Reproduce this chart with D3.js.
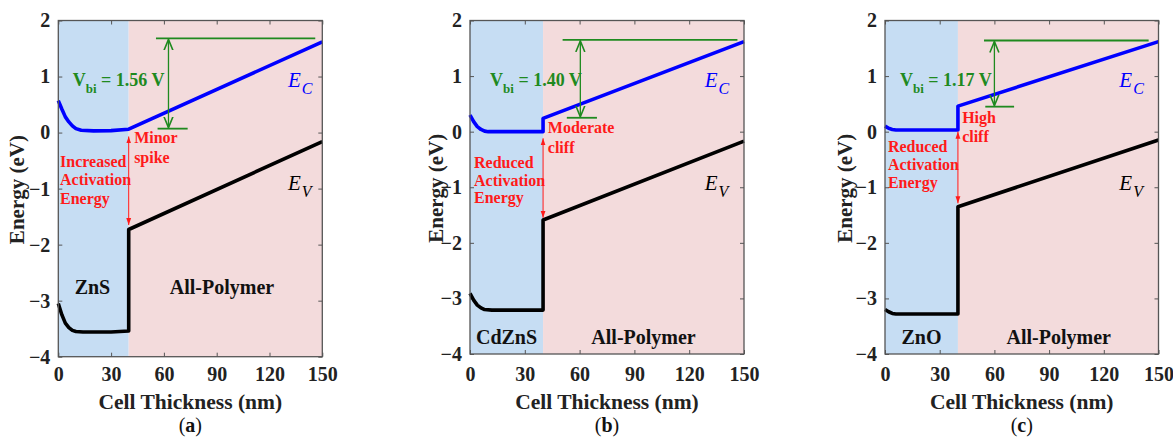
<!DOCTYPE html>
<html><head><meta charset="utf-8">
<script src="https://cdn.jsdelivr.net/npm/d3@7"></script>
<style>
body{margin:0;background:#fff;}
svg{display:block;}
text{font-family:"Liberation Serif","Times New Roman",serif;}
</style></head>
<body><svg id="chart" width="1173" height="437"></svg>
<script>
// ---------- data ----------
const xTicks = [0, 30, 60, 90, 120, 150];
const yTicks = [2, 1, 0, -1, -2, -3, -4];
const xDomain = [0, 150];
const yDomain = [-4, 2];
const interfaceX = 40;
const panelTags = ["a", "b", "c"];
const layerNames = ["ZnS", "CdZnS", "ZnO"];
const absorberName = "All-Polymer";
const vbiValues = ["1.56", "1.40", "1.17"];
const offsetLabels = [["Minor", "spike"], ["Moderate", "cliff"], ["High", "cliff"]];
const barrierLabels = [["Increased", "Activation", "Energy"], ["Reduced", "Activation", "Energy"], ["Reduced", "Activation", "Energy"]];

// conduction band (E_C) per panel
const ecX_a = [0, 2, 4, 6, 8, 10, 13, 20, 30, 40, 150];
const ecY_a = [0.57, 0.42, 0.28, 0.19, 0.12, 0.07, 0.04, 0.03, 0.035, 0.06, 1.62];
const ecX_b = [0, 2, 4, 6, 8, 10, 20, 40, 40, 150];
const ecY_b = [0.30, 0.18, 0.09, 0.04, 0.01, 0.0, 0.0, 0.0, 0.24, 1.62];
const ecX_c = [0, 2, 4, 6, 10, 40, 40, 150];
const ecY_c = [0.10, 0.06, 0.04, 0.03, 0.03, 0.03, 0.46, 1.62];
// valence band (E_V) per panel
const evX_a = [0, 2, 4, 6, 8, 10, 14, 30, 40, 40, 150];
const evY_a = [-3.05, -3.25, -3.40, -3.48, -3.53, -3.55, -3.56, -3.56, -3.54, -1.73, -0.16];
const evX_b = [0, 2, 4, 6, 8, 12, 40, 40, 150];
const evY_b = [-2.91, -3.03, -3.12, -3.17, -3.20, -3.21, -3.21, -1.59, -0.17];
const evX_c = [0, 2, 4, 6, 40, 40, 150];
const evY_c = [-3.20, -3.24, -3.27, -3.28, -3.28, -1.35, -0.15];

// built-in voltage markers (energy levels, eV)
const vbiTopLevel = [1.68, 1.65, 1.64];
const vbiBottomLevel = [0.07, 0.25, 0.45];
// activation-energy arrow ends (eV)
const actTop = [-0.07, -0.12, 0.0];
const actBottom = [-1.65, -1.55, -1.29];

// ---------- layout (pixels / positions) ----------
const frames = [
  {x0: 58.3, x1: 322.3, y0: 20.5, y1: 356.7, ylabX: 17},
  {x0: 470, x1: 744, y0: 20.5, y1: 354, ylabX: 436},
  {x0: 885, x1: 1158.5, y0: 20.5, y1: 354, ylabX: 845}
];
const annot = [
  {vbiX: 8.2, vbiY: 0.94, topLine: [55.5, 146], botLine: [56.4, 73.5], arrowX: 62.6,
   layerX: 19.4, layerY: -2.76, absX: 93, barX: 1.0, barY: [-0.52, -0.84, -1.17],
   offX: 43.1, offY: [-0.095, -0.435], ecLab: [130.5, 0.94], evLab: [130.5, -0.9]},
  {vbiX: 11, vbiY: 0.93, topLine: [50.7, 146.4], botLine: [53, 69.5], arrowX: 60.4,
   layerX: 20, layerY: -3.69, absX: 95, barX: 2.2, barY: [-0.545, -0.87, -1.19],
   offX: 42.6, offY: [0.07, -0.275], ecLab: [128.5, 0.93], evLab: [128.5, -0.92]},
  {vbiX: 8.2, vbiY: 0.93, topLine: [54.3, 144.6], botLine: [55, 70.8], arrowX: 60,
   layerX: 20, layerY: -3.69, absX: 95.3, barX: 1.6, barY: [-0.27, -0.59, -0.92],
   offX: 42.3, offY: [0.25, -0.077], ecLab: [128.5, 0.93], evLab: [128.5, -0.92]}
];

const ecXs = [ecX_a, ecX_b, ecX_c], ecYs = [ecY_a, ecY_b, ecY_c];
const evXs = [evX_a, evX_b, evX_c], evYs = [evY_a, evY_b, evY_c];

const BLUE_BG = "#c6ddf3", PINK_BG = "#f3dbdc";
const GREEN = "#1f8a1f", RED = "#ff1a1a";

const svg = d3.select("#chart");
const defs = svg.append("defs");
defs.append("marker").attr("id", "redHead").attr("viewBox", "0 0 10 10")
  .attr("refX", 10).attr("refY", 5).attr("markerWidth", 7).attr("markerHeight", 7)
  .attr("markerUnits", "userSpaceOnUse").attr("orient", "auto-start-reverse")
  .append("path").attr("d", "M0,1.5 L10,5 L0,8.5 Z").attr("fill", RED);
defs.append("marker").attr("id", "greenHead").attr("viewBox", "0 0 12 12")
  .attr("refX", 11).attr("refY", 6).attr("markerWidth", 12).attr("markerHeight", 12)
  .attr("markerUnits", "userSpaceOnUse").attr("orient", "auto-start-reverse")
  .append("path").attr("d", "M0,1.5 L11,6 L0,10.5").attr("fill", "none")
  .attr("stroke", GREEN).attr("stroke-width", 1.6);

frames.forEach((f, i) => {
  const x = d3.scaleLinear().domain(xDomain).range([f.x0, f.x1]);
  const y = d3.scaleLinear().domain(yDomain).range([f.y1, f.y0]);
  const g = svg.append("g");
  const a = annot[i];

  g.append("rect").attr("x", x(0)).attr("y", f.y0).attr("width", x(interfaceX) - x(0))
    .attr("height", f.y1 - f.y0).attr("fill", BLUE_BG);
  g.append("rect").attr("x", x(interfaceX)).attr("y", f.y0).attr("width", x(150) - x(interfaceX))
    .attr("height", f.y1 - f.y0).attr("fill", PINK_BG);

  const tickStyle = sel => {
    sel.select(".domain").remove();
    sel.selectAll(".tick line").attr("stroke", "#555").attr("stroke-width", 1);
  };
  const xb = g.append("g").attr("transform", `translate(0,${f.y1})`)
    .call(d3.axisBottom(x).tickValues(xTicks).tickSize(-4).tickPadding(13).tickFormat(d3.format("d")));
  tickStyle(xb);
  xb.selectAll("text").attr("font-size", 20).attr("font-weight", "bold").attr("fill", "#222")
    .attr("font-family", "Liberation Serif").attr("dy", "0.71em")
    .attr("y", 381.5 - f.y1 - 14.5);
  const xt = g.append("g").attr("transform", `translate(0,${f.y0})`)
    .call(d3.axisTop(x).tickValues(xTicks).tickSize(-4).tickFormat(""));
  tickStyle(xt);
  const yl = g.append("g").attr("transform", `translate(${f.x0},0)`)
    .call(d3.axisLeft(y).tickValues(yTicks).tickSize(-4).tickPadding(8).tickFormat(d3.format("d")));
  tickStyle(yl);
  yl.selectAll("text").attr("font-size", 20).attr("font-weight", "bold").attr("fill", "#222")
    .attr("font-family", "Liberation Serif");
  const yr = g.append("g").attr("transform", `translate(${f.x1},0)`)
    .call(d3.axisRight(y).tickValues(yTicks).tickSize(-4).tickFormat(""));
  tickStyle(yr);

  const line = d3.line().x(d => x(d[0])).y(d => y(d[1]));
  const ecPts = d3.zip(ecXs[i], ecYs[i]);
  const evPts = d3.zip(evXs[i], evYs[i]);
  g.append("path").attr("d", line(ecPts)).attr("fill", "none").attr("stroke", "#0000ff")
    .attr("stroke-width", 3.6).attr("stroke-linejoin", "round");
  g.append("path").attr("d", line(evPts)).attr("fill", "none").attr("stroke", "#000")
    .attr("stroke-width", 3.6).attr("stroke-linejoin", "round");

  g.append("line").attr("x1", x(a.topLine[0])).attr("x2", x(a.topLine[1]))
    .attr("y1", y(vbiTopLevel[i])).attr("y2", y(vbiTopLevel[i]))
    .attr("stroke", GREEN).attr("stroke-width", 1.8);
  g.append("line").attr("x1", x(a.botLine[0])).attr("x2", x(a.botLine[1]))
    .attr("y1", y(vbiBottomLevel[i])).attr("y2", y(vbiBottomLevel[i]))
    .attr("stroke", GREEN).attr("stroke-width", 1.8);
  g.append("line").attr("x1", x(a.arrowX)).attr("x2", x(a.arrowX))
    .attr("y1", y(vbiTopLevel[i]) + 1).attr("y2", y(vbiBottomLevel[i]) - 1)
    .attr("stroke", GREEN).attr("stroke-width", 1.3)
    .attr("marker-start", "url(#greenHead)").attr("marker-end", "url(#greenHead)");

  g.append("line").attr("x1", x(interfaceX)).attr("x2", x(interfaceX))
    .attr("y1", y(actTop[i])).attr("y2", y(actBottom[i]))
    .attr("stroke", RED).attr("stroke-width", 1)
    .attr("marker-start", "url(#redHead)").attr("marker-end", "url(#redHead)");

  g.append("rect").attr("x", f.x0).attr("y", f.y0).attr("width", f.x1 - f.x0)
    .attr("height", f.y1 - f.y0).attr("fill", "none").attr("stroke", "#555").attr("stroke-width", 1.3);

  const vt = g.append("text").attr("x", x(a.vbiX)).attr("y", y(a.vbiY)).attr("dy", "0.35em")
    .attr("fill", GREEN).attr("font-weight", "bold").attr("font-size", 18);
  vt.append("tspan").text("V");
  vt.append("tspan").attr("font-size", 13).attr("dy", 7).text("bi");
  vt.append("tspan").attr("dy", -7).text(" = " + vbiValues[i] + " V");

  const ec = g.append("text").attr("x", x(a.ecLab[0])).attr("y", y(a.ecLab[1])).attr("dy", "0.35em")
    .attr("fill", "#0000ff").attr("font-style", "italic").attr("font-size", 21);
  ec.append("tspan").text("E");
  ec.append("tspan").attr("font-size", 16).attr("dy", 7).attr("dx", 1).text("C");
  const ev = g.append("text").attr("x", x(a.evLab[0])).attr("y", y(a.evLab[1])).attr("dy", "0.35em")
    .attr("fill", "#000").attr("font-style", "italic").attr("font-size", 21);
  ev.append("tspan").text("E");
  ev.append("tspan").attr("font-size", 16).attr("dy", 7).attr("dx", 1).text("V");

  barrierLabels[i].forEach((t, k) => {
    g.append("text").attr("x", x(a.barX)).attr("y", y(a.barY[k])).attr("dy", "0.35em")
      .attr("fill", RED).attr("font-weight", "bold").attr("font-size", 16).text(t);
  });
  offsetLabels[i].forEach((t, k) => {
    g.append("text").attr("x", x(a.offX)).attr("y", y(a.offY[k])).attr("dy", "0.35em")
      .attr("fill", RED).attr("font-weight", "bold").attr("font-size", 16).text(t);
  });

  g.append("text").attr("x", x(a.layerX)).attr("y", y(a.layerY)).attr("dy", "0.35em")
    .attr("text-anchor", "middle").attr("font-weight", "bold").attr("font-size", 20)
    .attr("fill", "#111").text(layerNames[i]);
  g.append("text").attr("x", x(a.absX)).attr("y", y(a.layerY)).attr("dy", "0.35em")
    .attr("text-anchor", "middle").attr("font-weight", "bold").attr("font-size", 20)
    .attr("fill", "#111").text(absorberName);

  g.append("text").attr("x", (f.x0 + f.x1) / 2).attr("y", 401.5).attr("dy", "0.35em")
    .attr("text-anchor", "middle").attr("font-weight", "bold").attr("font-size", 21.5)
    .attr("fill", "#222").text("Cell Thickness (nm)");
  g.append("text").attr("transform", `translate(${f.ylabX},${(f.y0 + f.y1) / 2 + 1}) rotate(-90)`)
    .attr("dy", "0.35em").attr("text-anchor", "middle").attr("font-weight", "bold")
    .attr("font-size", 21).attr("fill", "#222").text("Energy (eV)");

  const pt = g.append("text").attr("x", (f.x0 + f.x1) / 2).attr("y", 425).attr("dy", "0.35em")
    .attr("text-anchor", "middle").attr("font-size", 20).attr("fill", "#111")
    .attr("font-family", "DejaVu Sans");
  pt.append("tspan").text("(");
  pt.append("tspan").attr("font-weight", "bold").text(panelTags[i]);
  pt.append("tspan").text(")");
});
</script></body></html>
